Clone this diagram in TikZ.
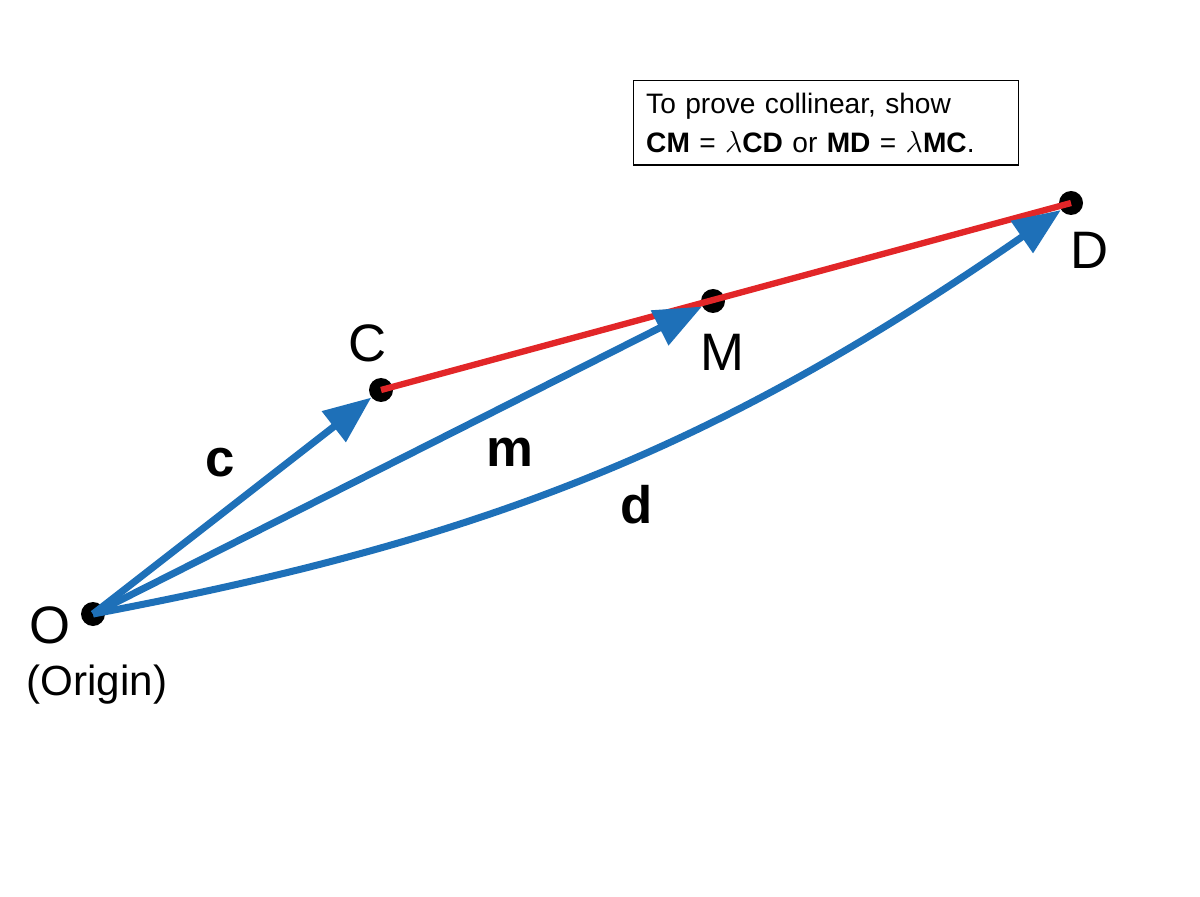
\documentclass[tikz,border=0pt]{standalone}
\usepackage{fontspec}
\setmainfont{Liberation Sans}
\usetikzlibrary{arrows.meta, positioning}
\definecolor{vecblue}{RGB}{30,112,184}
\definecolor{segred}{RGB}{226,38,40}
\tikzset{
  dot/.style = {circle, fill=black, inner sep=0pt, minimum size=0.48cm},
  vec/.style = {line width=4pt, draw=vecblue, -{Triangle[length=0.95cm,width=0.75cm]}},
  seg/.style = {line width=3.6pt, draw=segred},
  ptlabel/.style = {font=\fontsize{30}{32}\selectfont},
  veclabel/.style = {font=\fontsize{30}{32}\selectfont\bfseries},
  note/.style = {draw=black, line width=0.8pt, align=left, inner sep=0.25cm,
    font=\fontsize{16}{22}\selectfont, text width=7.2cm}
}
\begin{document}
\begin{tikzpicture}
  \useasboundingbox (0,0) rectangle (24,17.92);
  % points
  \node (O) [dot] at (1.86,5.64) {};
  \node (C) [dot] at (7.62,10.12) {};
  \node (M) [dot] at (14.26,11.90) {};
  \node (D) [dot] at (21.42,13.86) {};

  % labels
  \node (lO) [ptlabel] at (1.0,5.42) {O};
  \node (lorigin) [font=\fontsize{24}{26}\selectfont] at (1.94,4.22) {(Origin)};
  \node (lC) [ptlabel] at (7.36,11.06) {C};
  \node (lM) [ptlabel] at (14.44,10.88) {M};
  \node (lD) [ptlabel] at (21.8,12.92) {D};
  \node (lc) [veclabel] at (4.4,8.66) {c};
  \node (lm) [veclabel] at (10.2,8.88) {m};
  \node (ld) [veclabel] at (12.74,7.82) {d};

  % the segment C--D
  \draw [seg] (C.center) -- (D.center);

  % position vectors
  \draw [vec] (O.center) -- (C);
  \draw [vec] (O.center) -- (M);
  \draw [vec] (O.center) to[bend right=12] (D);

  % note
  \node (box) [note, anchor=north west] at (12.66,16.32)
    {To prove collinear, show\\\textbf{CM} = $\lambda$\textbf{CD} or \textbf{MD} = $\lambda$\textbf{MC}.};
\end{tikzpicture}
\end{document}
